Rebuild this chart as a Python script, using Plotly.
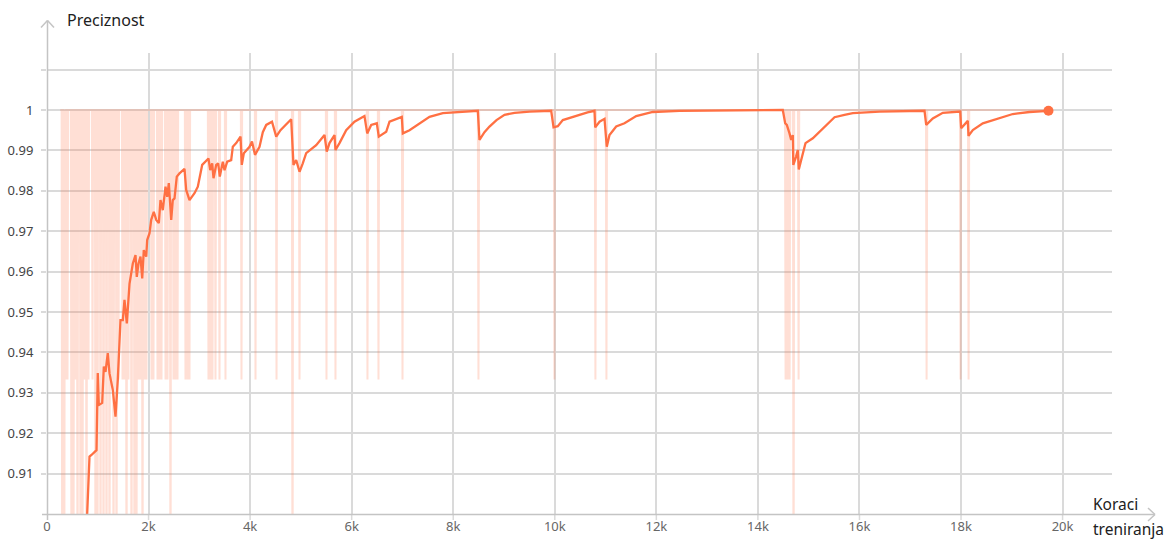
import plotly.graph_objects as go

# ---------------- data ----------------
# smoothed accuracy curve (training step, value)
smooth_steps = [285, 640, 778, 837, 876, 975, 1000, 1020, 1087, 1119, 1152, 1197, 1231, 1296, 1349, 1394,
                1447, 1493, 1526, 1572, 1625, 1690, 1743, 1768, 1802, 1841, 1875, 1906, 1954, 1973, 2019,
                2052, 2103, 2151, 2202, 2235, 2280, 2334, 2367, 2399, 2446, 2477, 2511, 2556, 2609, 2708,
                2741, 2806, 2905, 2970, 3056, 3135, 3180, 3214, 3253, 3279, 3332, 3371, 3403, 3462, 3496,
                3549, 3627, 3659, 3726, 3811, 3836, 3876, 3988, 4037, 4096, 4185, 4250, 4317, 4431, 4514,
                4598, 4809, 4854, 4907, 4973, 5037, 5104, 5301, 5465, 5510, 5563, 5662, 5681, 5760, 5892,
                6055, 6252, 6306, 6384, 6495, 6534, 6680, 6745, 6987, 7007, 7139, 7401, 7533, 7795, 8189,
                8484, 8517, 8615, 8714, 8852, 9010, 9206, 9502, 9929, 9975, 10059, 10158, 10355, 10487,
                10645, 10782, 10796, 10881, 10979, 11024, 11077, 11209, 11372, 11603, 11930, 12456, 13637,
                14490, 14537, 14569, 14622, 14655, 14687, 14697, 14750, 14785, 14805, 14852, 14937, 15081,
                15278, 15410, 15509, 15705, 15869, 16395, 17281, 17314, 17444, 17641, 17984, 18003, 18068,
                18133, 18147, 18232, 18429, 18693, 19019, 19348, 19722]
smooth_values = [0.80, 0.86, 0.896, 0.9142, 0.9146, 0.9158, 0.9349, 0.927, 0.9275, 0.9365, 0.9352, 0.9398,
                 0.9348, 0.9307, 0.9241, 0.9332, 0.948, 0.948, 0.953, 0.9472, 0.957, 0.962, 0.9641, 0.9587,
                 0.962, 0.9637, 0.9583, 0.9653, 0.9637, 0.9678, 0.9695, 0.9728, 0.9748, 0.9728, 0.972,
                 0.9777, 0.9752, 0.981, 0.9785, 0.9819, 0.9728, 0.9777, 0.9781, 0.9835, 0.9843, 0.9854,
                 0.9802, 0.9777, 0.9794, 0.981, 0.9864, 0.9876, 0.988, 0.9851, 0.9868, 0.9831, 0.9864,
                 0.9868, 0.9835, 0.9872, 0.9851, 0.9872, 0.9876, 0.9909, 0.9918, 0.9934, 0.9864, 0.9893,
                 0.9909, 0.9922, 0.9889, 0.9909, 0.9945, 0.9963, 0.9971, 0.9934, 0.995, 0.9977, 0.9864,
                 0.9876, 0.9847, 0.9868, 0.9893, 0.9913, 0.9938, 0.9897, 0.9918, 0.9938, 0.9901, 0.9918,
                 0.995, 0.9971, 0.9985, 0.9942, 0.9963, 0.9967, 0.9934, 0.9946, 0.9971, 0.9983, 0.9942,
                 0.995, 0.9971, 0.9983, 0.9992, 0.9995, 0.9998,
                 0.9926, 0.9945, 0.9959, 0.9975, 0.9988, 0.9993, 0.9996, 0.9998, 0.9957, 0.996, 0.9975,
                 0.9983, 0.9988,
                 0.9994, 0.9998, 0.9957, 0.9971, 0.9978, 0.9909, 0.9938, 0.9959, 0.9967, 0.9985, 0.9995,
                 0.9998, 0.99995,
                 1.0, 0.9967, 0.9963, 0.9942, 0.9926, 0.9938, 0.9864, 0.9884, 0.9901, 0.9853, 0.9876,
                 0.9918, 0.993,
                 0.9955, 0.9972, 0.9982, 0.9988, 0.9992, 0.9996, 0.9998, 0.9963, 0.9979, 0.9993, 0.9996,
                 0.9955, 0.9963,
                 0.9973, 0.9936, 0.995, 0.9967, 0.9977, 0.999, 0.9995, 0.9998]

# raw accuracy: 1.0 everywhere except at these logged steps
raw_first_step = 260
raw_last_step = 19722
raw_dip_steps = [300, 340, 364, 404, 482, 521, 561, 601, 660, 699, 738, 778, 817, 896, 955, 994,
                 1054, 1113, 1172, 1231, 1270, 1310, 1369, 1408, 1487, 1526, 1566, 1605, 1664, 1723,
                 1762, 1802, 1841, 1881, 1920, 1959, 2058, 2097, 2176, 2215, 2255, 2334, 2373,
                 2432, 2491, 2530, 2570, 2727, 2767, 2806, 3180, 3220, 3259, 3318, 3397, 3515, 3830, 4106,
                 4520, 4835, 4973, 5504, 5681, 6311, 6528, 7001, 8497, 9993, 10800, 11017, 14545, 14584,
                 14624, 14702, 14801, 17322, 17991, 18149]
raw_dip_values = [0.8667, 0.8667, 0.9333, 0.9333, 0.8667, 0.8667, 0.9333, 0.8667, 0.8667, 0.8667,
                  0.9333, 0.8667, 0.9333, 0.9333, 0.8667, 0.8667, 0.8667, 0.8667, 0.8667, 0.8667,
                  0.9333, 0.8667, 0.8667, 0.9333, 0.9333, 0.9333, 0.8667, 0.9333, 0.8667, 0.8667,
                  0.8667, 0.9333, 0.9333, 0.8667, 0.9333, 0.9333, 0.9333, 0.9333, 0.9333, 0.9333,
                  0.9333, 0.9333, 0.9333, 0.8667, 0.9333, 0.9333, 0.9333, 0.9333, 0.9333, 0.9333,
                  0.9333, 0.9333, 0.9333, 0.9333, 0.9333, 0.9333, 0.9333, 0.9333, 0.9333, 0.8667, 0.9333,
                  0.9333, 0.9333, 0.9333, 0.9333, 0.9333, 0.9333, 0.9333, 0.9333, 0.9333, 0.9333, 0.9333,
                  0.9333, 0.8667, 0.9333, 0.9333, 0.9333, 0.9333]

x_tick_vals = [0, 2000, 4000, 6000, 8000, 10000, 12000, 14000, 16000, 18000, 20000]
x_tick_text = ["0", "2k", "4k", "6k", "8k", "10k", "12k", "14k", "16k", "18k", "20k"]
y_tick_vals = [0.91, 0.92, 0.93, 0.94, 0.95, 0.96, 0.97, 0.98, 0.99, 1.0, 1.01]
y_tick_text = ["0.91", "0.92", "0.93", "0.94", "0.95", "0.96", "0.97", "0.98", "0.99", "1", ""]

y_title = "Preciznost"
x_title_lines = ["Koraci", "treniranja"]

# ---------------- build raw line ----------------
half = 12
raw_x = [raw_first_step]
raw_y = [1.0]
for s, v in zip(raw_dip_steps, raw_dip_values):
    raw_x += [s - half, s, s + half]
    raw_y += [1.0, v, 1.0]
raw_x.append(raw_last_step)
raw_y.append(1.0)

# ---------------- layout geometry ----------------
W, H = 1167, 539
L, R, T, B = 47, 55, 53, 25
PW, PH = W - L - R, H - T - B


def pp(px, py):
    return (px - L) / PW, (H - B - py) / PH


ORANGE = "#ff7043"
GRID = "#dadada"
AXIS = "#c4c4c4"
FONT = "Noto Sans"

fig = go.Figure()
fig.add_trace(go.Scatter(x=raw_x, y=raw_y, mode="lines", line=dict(color=ORANGE, width=2),
                         opacity=0.22, hoverinfo="skip", showlegend=False))
fig.add_trace(go.Scatter(x=smooth_steps, y=smooth_values, mode="lines",
                         line=dict(color=ORANGE, width=2.3), hoverinfo="skip", showlegend=False))
fig.add_trace(go.Scatter(x=[smooth_steps[-1]], y=[smooth_values[-1]], mode="markers",
                         marker=dict(color=ORANGE, size=10), cliponaxis=False,
                         hoverinfo="skip", showlegend=False))

shapes = []


def seg(p1, p2):
    a = pp(*p1)
    b = pp(*p2)
    shapes.append(dict(type="line", xref="paper", yref="paper", x0=a[0], y0=a[1], x1=b[0], y1=b[1],
                       line=dict(color=AXIS, width=1.5), layer="above"))


# y axis with arrow
seg((47.5, 520), (47.5, 20.5))
seg((41, 27.5), (47.5, 20.5))
seg((54, 27.5), (47.5, 20.5))
# x axis with arrow
seg((42, 514.5), (1155, 514.5))
seg((1148, 508), (1155, 514.5))
seg((1148, 521), (1155, 514.5))
# short grid extensions below the x axis
for xv in x_tick_vals[1:]:
    shapes.append(dict(type="line", xref="x", yref="paper", x0=xv, x1=xv, y0=0, y1=pp(0, 520)[1],
                       line=dict(color=GRID, width=1.5), layer="below"))

annotations = []
ax, ay = pp(65, 20)
annotations.append(dict(text=y_title, x=ax, y=ay, xref="paper", yref="paper", xanchor="left",
                        yanchor="middle", showarrow=False, font=dict(family=FONT, size=16, color="#212121")))
for line_text, py in zip(x_title_lines, [504, 529]):
    bx, by = pp(1091, py)
    annotations.append(dict(text=line_text, x=bx, y=by, xref="paper", yref="paper", xanchor="left",
                            yanchor="middle", showarrow=False,
                            font=dict(family=FONT, size=15.5, color="#212121")))

fig.update_layout(
    width=W, height=H, margin=dict(l=L, r=R, t=T, b=B, autoexpand=False),
    paper_bgcolor="white", plot_bgcolor="white",
    font=dict(family=FONT), showlegend=False, hovermode=False,
    shapes=shapes, annotations=annotations,
    xaxis=dict(range=[0, 20973], tickmode="array", tickvals=x_tick_vals, ticktext=x_tick_text,
               showgrid=True, gridcolor=GRID, gridwidth=1.5, zeroline=False, showline=False,
               ticks="", automargin=False,
               tickfont=dict(family=FONT, size=13, color="#666666"), fixedrange=True,
               ticklabelstandoff=3),
    yaxis=dict(range=[0.9, 1.0141], tickmode="array", tickvals=y_tick_vals, ticktext=y_tick_text,
               showgrid=True, gridcolor=GRID, gridwidth=1.5, zeroline=False, showline=False,
               ticks="outside", ticklen=5, tickcolor=GRID, tickwidth=1.5, automargin=False,
               tickfont=dict(family=FONT, size=13, color="#444444"), fixedrange=True,
               ticklabelstandoff=5),
)

fig.write_html("out.html", config={"displayModeBar": False},
               post_script="document.body.style.margin='0px';document.body.style.overflow='hidden';")
